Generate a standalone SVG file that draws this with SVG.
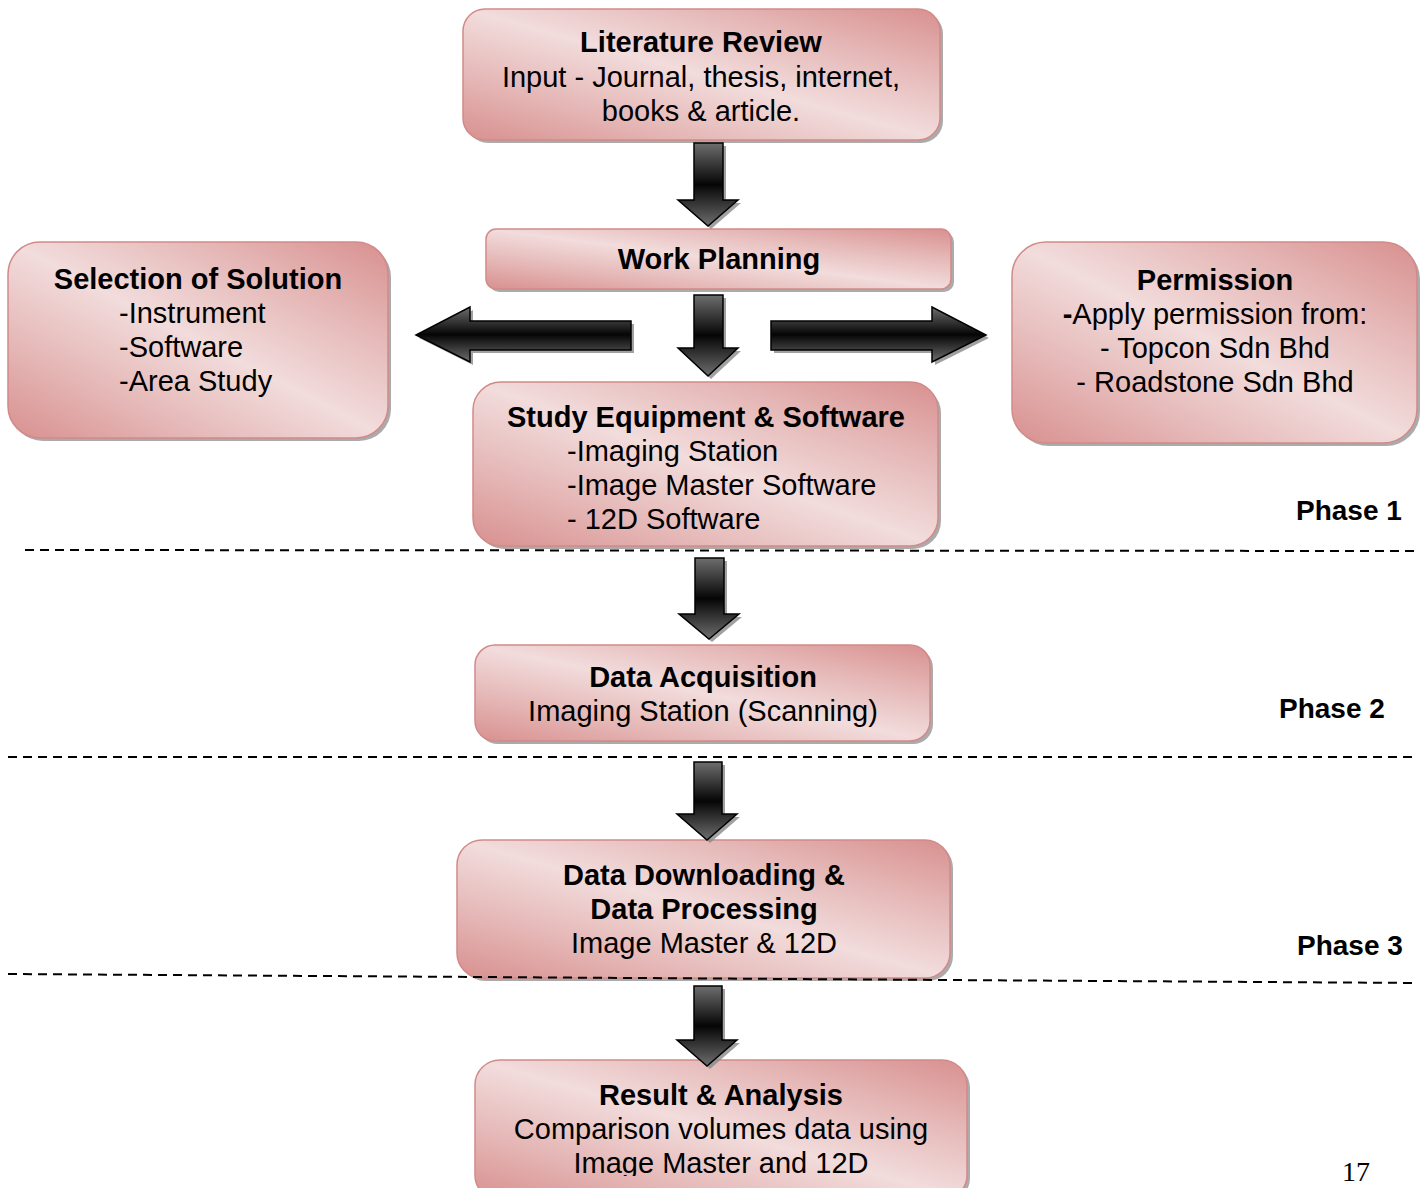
<svg xmlns="http://www.w3.org/2000/svg" width="1422" height="1188" viewBox="0 0 1422 1188">
<style>
.box{fill:url(#pink);stroke:#d28a89;stroke-width:1.5}
.sh{fill:#8f8f8f;opacity:.75}
.t{font-family:"Liberation Sans",Arial,sans-serif;font-size:29px;fill:#000}
.b{font-weight:bold}
.c{text-anchor:middle}
.arr{fill:url(#dark);stroke:#000;stroke-width:1.5;stroke-linejoin:miter}
.ash{fill:#8a8a8a;opacity:.8}
.dash{stroke:#000;stroke-width:2;stroke-dasharray:9 6;fill:none}
.ph{font-family:"Liberation Sans",Arial,sans-serif;font-size:28px;font-weight:bold;fill:#000}
</style>
<defs>
<linearGradient id="pink" x1="0" y1="1" x2="1" y2="0">
<stop offset="0" stop-color="#d8908f"/>
<stop offset="0.25" stop-color="#e5b8b7"/>
<stop offset="0.5" stop-color="#f2dcdc"/>
<stop offset="0.75" stop-color="#e5b8b7"/>
<stop offset="1" stop-color="#d8908f"/>
</linearGradient>
<linearGradient id="dark" x1="0" y1="0" x2="0" y2="1">
<stop offset="0" stop-color="#6e6e6e"/>
<stop offset="0.5" stop-color="#050505"/>
<stop offset="1" stop-color="#6e6e6e"/>
</linearGradient>
<clipPath id="clipStudy"><rect x="470" y="380" width="480" height="151"/></clipPath>
<clipPath id="clipResult"><rect x="470" y="1058" width="510" height="118"/></clipPath>
</defs>
<rect width="1422" height="1188" fill="#fff"/>

<g id="lit-review">
<rect class="sh" x="466" y="12" width="477" height="131" rx="22"/>
<rect class="box" x="463" y="9" width="477" height="131" rx="22"/>
<text class="t b c" x="701" y="52">Literature Review</text>
<text class="t c" x="701" y="87">Input - Journal, thesis, internet,</text>
<text class="t c" x="701" y="121">books &amp; article.</text>
</g>

<g id="work-planning">
<rect class="sh" x="489" y="232" width="465" height="60" rx="10"/>
<rect class="box" x="486" y="229" width="465" height="60" rx="10"/>
<text class="t b c" x="719" y="269">Work Planning</text>
</g>

<g id="selection">
<rect class="sh" x="11" y="245" width="380" height="196" rx="32"/>
<rect class="box" x="8" y="242" width="380" height="196" rx="32"/>
<text class="t b c" x="198" y="289">Selection of Solution</text>
<text class="t" x="119" y="323">-Instrument</text>
<text class="t" x="119" y="357">-Software</text>
<text class="t" x="119" y="391">-Area Study</text>
</g>

<g id="permission">
<rect class="sh" x="1015" y="245" width="405" height="201" rx="34"/>
<rect class="box" x="1012" y="242" width="405" height="201" rx="34"/>
<text class="t b c" x="1215" y="290">Permission</text>
<text class="t c" x="1215" y="324"><tspan class="b">-</tspan>Apply permission from:</text>
<text class="t c" x="1215" y="358">- Topcon Sdn Bhd</text>
<text class="t c" x="1215" y="392">- Roadstone Sdn Bhd</text>
</g>

<g id="study-equipment">
<rect class="sh" x="476" y="385" width="465" height="164" rx="28"/>
<rect class="box" x="473" y="382" width="465" height="164" rx="28"/>
<g clip-path="url(#clipStudy)">
<text class="t b c" x="706" y="427">Study Equipment &amp; Software</text>
<text class="t" x="567" y="461">-Imaging Station</text>
<text class="t" x="567" y="495">-Image Master Software</text>
<text class="t" x="567" y="529">- 12D Software</text>
</g>
</g>

<g id="data-acquisition">
<rect class="sh" x="478" y="648" width="455" height="96" rx="20"/>
<rect class="box" x="475" y="645" width="455" height="96" rx="20"/>
<text class="t b c" x="703" y="687">Data Acquisition</text>
<text class="t c" x="703" y="721">Imaging Station (Scanning)</text>
</g>

<g id="data-downloading">
<rect class="sh" x="460" y="843" width="493" height="138" rx="25"/>
<rect class="box" x="457" y="840" width="493" height="138" rx="25"/>
<text class="t b c" x="704" y="885">Data Downloading &amp;</text>
<text class="t b c" x="704" y="919">Data Processing</text>
<text class="t c" x="704" y="953">Image Master &amp; 12D</text>
</g>

<g id="result-analysis">
<rect class="sh" x="478" y="1063" width="492" height="140" rx="25"/>
<rect class="box" x="475" y="1060" width="492" height="140" rx="25"/>
<g clip-path="url(#clipResult)">
<text class="t b c" x="721" y="1105">Result &amp; Analysis</text>
<text class="t c" x="721" y="1139">Comparison volumes data using</text>
<text class="t c" x="721" y="1173">Image Master and 12D</text>
</g>
</g>

<g id="connectors">
<path class="ash" transform="translate(3,3)" d="M694,143 H723 V200 H738 L708,226 L678,200 H694 Z"/>
<path class="arr" d="M694,143 H723 V200 H738 L708,226 L678,200 H694 Z"/>
<path class="ash" transform="translate(3,3)" d="M694,295 H723 V348 H738 L708,376 L678,348 H694 Z"/>
<path class="arr" d="M694,295 H723 V348 H738 L708,376 L678,348 H694 Z"/>
<path class="ash" transform="translate(3,3)" d="M631,321 V350 H470 V362 L416,335 L470,307 V321 Z"/>
<path class="arr" d="M631,321 V350 H470 V362 L416,335 L470,307 V321 Z"/>
<path class="ash" transform="translate(3,3)" d="M771,321 V350 H932 V362 L986,335 L932,307 V321 Z"/>
<path class="arr" d="M771,321 V350 H932 V362 L986,335 L932,307 V321 Z"/>
<path class="ash" transform="translate(3,3)" d="M695,558 H724 V614 H739 L709,639 L679,614 H695 Z"/>
<path class="arr" d="M695,558 H724 V614 H739 L709,639 L679,614 H695 Z"/>
<path class="ash" transform="translate(3,3)" d="M694,762 H722 V814 H737 L707,840 L677,814 H694 Z"/>
<path class="arr" d="M694,762 H722 V814 H737 L707,840 L677,814 H694 Z"/>
<path class="ash" transform="translate(3,3)" d="M694,986 H722 V1040 H737 L707,1066 L677,1040 H694 Z"/>
<path class="arr" d="M694,986 H722 V1040 H737 L707,1066 L677,1040 H694 Z"/>
</g>

<g id="phase-lines">
<line class="dash" x1="25" y1="550" x2="1418" y2="551"/>
<line class="dash" x1="8" y1="757" x2="1416" y2="757"/>
<line class="dash" x1="8" y1="974" x2="1418" y2="983"/>
</g>

<text class="ph" x="1296" y="520">Phase 1</text>
<text class="ph" x="1279" y="718">Phase 2</text>
<text class="ph" x="1297" y="955">Phase 3</text>
<text x="1342" y="1181" font-family="'Liberation Serif','Times New Roman',serif" font-size="28" fill="#000">17</text>
</svg>
